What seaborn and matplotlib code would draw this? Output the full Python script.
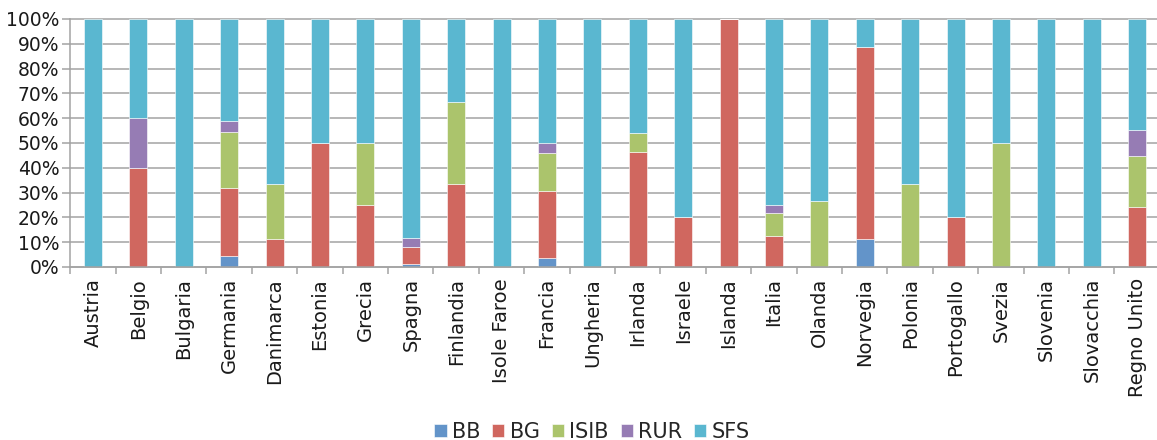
import numpy as np
import pandas as pd
import matplotlib
matplotlib.use("Agg")
import matplotlib.pyplot as plt
from matplotlib.ticker import FixedLocator, FuncFormatter
import seaborn as sns

countries = ["Austria", "Belgio", "Bulgaria", "Germania", "Danimarca", "Estonia",
             "Grecia", "Spagna", "Finlandia", "Isole Faroe", "Francia", "Ungheria",
             "Irlanda", "Israele", "Islanda", "Italia", "Olanda", "Norvegia",
             "Polonia", "Portogallo", "Svezia", "Slovenia", "Slovacchia", "Regno Unito"]

BB = [0, 0, 0, 4.5, 0, 0, 0, 1.2, 0, 0, 3.8, 0, 0, 0, 0, 0, 0, 11.1, 0, 0, 0, 0, 0, 0]
BG = [0, 40, 0, 27.3, 11.1, 50, 25, 6.9, 33.3, 0, 26.9, 0, 46.2, 20, 100, 12.5,
      0, 77.8, 0, 20, 0, 0, 0, 24.1]
ISIB = [0, 0, 0, 22.7, 22.2, 0, 25, 0, 33.3, 0, 15.4, 0, 7.7, 0, 0, 9.4,
        26.7, 0, 33.3, 0, 50, 0, 0, 20.7]
RUR = [0, 20, 0, 4.5, 0, 0, 0, 3.7, 0, 0, 3.8, 0, 0, 0, 0, 3.1, 0, 0, 0, 0, 0, 0, 0, 10.3]
SFS = [100, 40, 100, 40.9, 66.7, 50, 50, 88.2, 33.3, 100, 50, 100, 46.2, 80, 0, 75,
       73.3, 11.1, 66.7, 80, 50, 100, 100, 44.8]

series_names = ["BB", "BG", "ISIB", "RUR", "SFS"]
series_values = [BB, BG, ISIB, RUR, SFS]
colors = ["#6394c9", "#d0675f", "#abc46c", "#967cb4", "#5ab7d0"]

sns.set_theme(style="white")
plt.rcParams["font.family"] = ["DejaVu Sans"]

W, H = 1157, 440
fig = plt.figure(figsize=(W / 100, H / 100), dpi=100)
ax = fig.add_axes([70.3 / W, (H - 267) / H, 1089.6 / W, 248 / H])

grid_color = "#a3a3a3"
bottom = np.zeros(len(countries))
for name, vals, col in zip(series_names, series_values, colors):
    df = pd.DataFrame({"paese": countries, "quota": vals})
    sns.barplot(data=df, x="paese", y="quota", order=countries, bottom=bottom,
                color=col, saturation=1, width=0.4, label=name, ax=ax,
                edgecolor="white", linewidth=0.4, zorder=3)
    bottom = bottom + np.array(vals)

if ax.get_legend() is not None:
    ax.get_legend().remove()

ax.set_xlim(-0.5, len(countries) - 0.5)
ax.set_ylim(0, 100)
ax.set_xlabel("")
ax.set_ylabel("")

ax.yaxis.set_major_locator(FixedLocator(np.arange(0, 101, 10)))
ax.yaxis.set_major_formatter(FuncFormatter(lambda v, p: f"{int(round(v))}%"))
ax.grid(axis="y", color=grid_color, linewidth=1.1, zorder=0)
ax.set_axisbelow(True)
for gl in ax.get_ygridlines():
    gl.set_clip_on(False)

ax.xaxis.set_minor_locator(FixedLocator(np.arange(-0.5, len(countries), 1.0)))
ax.tick_params(axis="x", which="major", length=0, pad=8, labelsize=14,
               labelcolor="#1a1a1a", rotation=90)
ax.tick_params(axis="x", which="minor", length=5, width=1.1, color=grid_color,
               direction="out", bottom=True)
ax.tick_params(axis="y", which="major", length=6, width=1.1, color=grid_color,
               direction="out", left=True, pad=2, labelsize=13.5,
               labelcolor="#1a1a1a")
for lbl in ax.get_xticklabels():
    lbl.set_verticalalignment("top")

for side in ["top", "right"]:
    ax.spines[side].set_visible(False)
for side in ["left", "bottom"]:
    ax.spines[side].set_color(grid_color)
    ax.spines[side].set_linewidth(1.1)
    ax.spines[side].set_zorder(4)

handles, labels = ax.get_legend_handles_labels()
fig.legend(handles, labels, loc="center", bbox_to_anchor=(592 / W, (H - 432) / H),
           ncol=5, frameon=False, fontsize=15, handlelength=0.58,
           handleheight=0.58, handletextpad=0.25, columnspacing=0.58,
           borderaxespad=0, borderpad=0)

fig.savefig("out.png", dpi=100)
